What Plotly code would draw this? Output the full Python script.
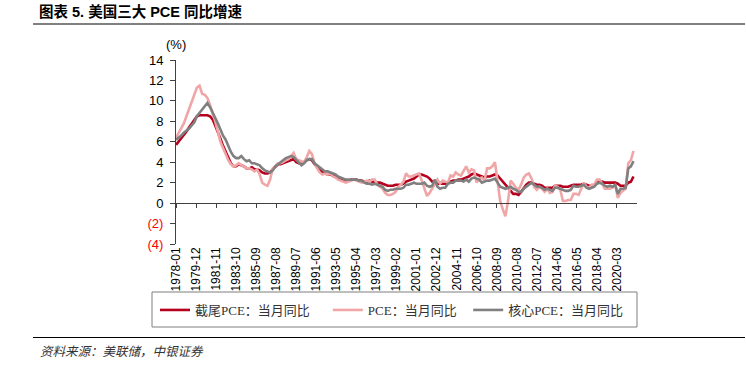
import plotly.graph_objects as go

# ---------------- data (quarterly readings: Jan, Apr, Jul, Oct) ----------------
years = list(range(1978, 2022))
quarter_months = [0, 3, 6, 9]

trimmed_pce = [  # 截尾PCE：当月同比
    5.7, 6.0, 6.4, 6.7,   # 1978
    7.0, 7.4, 7.8, 8.2,   # 1979
    8.5, 8.6, 8.6, 8.6,   # 1980
    8.6, 8.5, 8.2, 7.6,   # 1981
    7.0, 6.3, 5.6, 5.0,   # 1982
    4.5, 3.9, 3.6, 3.6,   # 1983
    3.8, 3.7, 3.6, 3.4,   # 1984
    3.4, 3.5, 3.3, 3.3,   # 1985
    3.2, 3.0, 2.9, 2.9,   # 1986
    3.0, 3.3, 3.6, 3.8,   # 1987
    3.8, 3.9, 4.0, 4.1,   # 1988
    4.2, 4.3, 4.0, 3.9,   # 1989
    3.8, 4.0, 4.2, 4.3,   # 1990
    4.2, 3.8, 3.5, 3.3,   # 1991
    3.0, 2.9, 2.8, 2.8,   # 1992
    2.7, 2.6, 2.5, 2.4,   # 1993
    2.3, 2.2, 2.2, 2.3,   # 1994
    2.3, 2.3, 2.2, 2.2,   # 1995
    2.1, 2.1, 2.2, 2.1,   # 1996
    2.1, 2.0, 2.0, 1.9,   # 1997
    1.8, 1.7, 1.7, 1.7,   # 1998
    1.8, 1.8, 1.8, 1.9,   # 1999
    2.1, 2.2, 2.3, 2.4,   # 2000
    2.6, 2.8, 2.8, 2.7,   # 2001
    2.6, 2.4, 2.1, 2.0,   # 2002
    1.9, 1.9, 1.9, 1.9,   # 2003
    2.0, 2.1, 2.2, 2.2,   # 2004
    2.3, 2.3, 2.4, 2.5,   # 2005
    2.6, 2.8, 2.9, 2.8,   # 2006
    2.7, 2.6, 2.5, 2.6,   # 2007
    2.6, 2.7, 2.8, 2.7,   # 2008
    2.4, 2.1, 1.7, 1.4,   # 2009
    1.1, 0.9, 0.9, 0.8,   # 2010
    1.1, 1.5, 1.8, 2.0,   # 2011
    2.0, 1.9, 1.8, 1.8,   # 2012
    1.7, 1.5, 1.5, 1.5,   # 2013
    1.5, 1.7, 1.7, 1.7,   # 2014
    1.6, 1.6, 1.6, 1.7,   # 2015
    1.8, 1.8, 1.8, 1.8,   # 2016
    1.9, 1.8, 1.7, 1.7,   # 2017
    1.8, 2.0, 2.1, 2.1,   # 2018
    2.0, 2.0, 2.0, 2.0,   # 2019
    2.0, 1.9, 1.7, 1.7,   # 2020
    1.7, 2.0, 2.1, 2.6,   # 2021
]

headline_pce = [  # PCE：当月同比
    6.4, 6.9, 7.3, 7.8,
    8.5, 9.2, 10.0, 10.8,
    11.3, 11.5, 10.7, 10.6,
    10.3, 9.6, 8.9, 8.0,
    7.0, 6.0, 5.4, 4.8,
    4.2, 3.8, 3.6, 3.7,
    3.9, 3.7, 3.6, 3.4,
    3.4, 3.3, 3.1, 3.3,
    2.8, 2.0, 1.8, 1.7,
    2.3, 3.4, 3.7, 3.9,
    3.9, 4.0, 4.2, 4.3,
    4.6, 4.9, 4.3, 4.2,
    4.1, 4.0, 4.5, 5.1,
    4.8, 3.9, 3.4, 3.0,
    2.8, 2.9, 2.8, 2.9,
    2.6, 2.5, 2.3, 2.2,
    2.1, 2.0, 2.1, 2.2,
    2.3, 2.2, 2.1, 2.0,
    2.1, 2.2, 2.1, 2.3,
    2.3, 1.8, 1.6, 1.4,
    1.0, 0.8, 0.8, 0.9,
    1.1, 1.6, 1.8, 2.1,
    2.9, 2.6, 2.6, 2.7,
    2.8, 2.9, 2.2, 1.4,
    0.7, 1.0, 1.4, 1.8,
    2.3, 1.9, 2.2, 2.1,
    2.0, 2.7, 2.6, 3.0,
    2.8, 2.7, 3.1, 3.6,
    3.0, 3.3, 3.2, 2.0,
    2.4, 2.5, 2.2, 3.4,
    3.4, 3.6, 4.0, 2.3,
    0.2, -0.6, -1.3, 0.2,
    2.2, 1.9, 1.5, 1.3,
    1.8, 2.5, 2.8, 2.9,
    2.4, 1.6, 1.3, 1.6,
    1.4, 1.1, 1.4, 1.0,
    1.1, 1.7, 1.6, 1.3,
    0.2, 0.2, 0.3, 0.3,
    0.9, 0.9, 0.8, 1.4,
    2.0, 1.6, 1.5, 1.8,
    1.8, 2.3, 2.3, 1.9,
    1.4, 1.4, 1.4, 1.5,
    1.8, 0.5, 1.0, 1.2,
    1.4, 3.9, 4.2, 5.1,
]

core_pce = [  # 核心PCE：当月同比
    6.2, 6.4, 6.6, 6.9,
    7.1, 7.3, 7.6, 7.9,
    8.5, 8.8, 9.1, 9.5,
    9.8, 9.4, 8.9, 8.3,
    7.8, 7.2, 6.6, 6.2,
    5.6, 5.0, 4.6, 4.4,
    4.4, 4.6, 4.3, 4.1,
    4.2, 3.9, 3.9, 3.8,
    3.7, 3.4, 3.2, 3.1,
    3.0, 3.2, 3.6, 3.8,
    4.0, 4.2, 4.4, 4.5,
    4.6, 4.5, 4.2, 4.0,
    3.7, 3.9, 4.2, 4.3,
    4.3, 3.9, 3.7, 3.5,
    3.3, 3.1, 3.1, 3.0,
    2.9, 2.8, 2.6, 2.5,
    2.4, 2.3, 2.3, 2.3,
    2.3, 2.3, 2.2, 2.2,
    2.0, 1.9, 1.9, 1.8,
    1.9, 1.8, 1.7, 1.6,
    1.3, 1.2, 1.3, 1.3,
    1.4, 1.4, 1.4, 1.5,
    1.8, 1.8, 1.9, 2.0,
    1.9, 1.9, 1.9, 2.0,
    1.7, 1.6, 1.7, 2.3,
    1.6, 1.4, 1.5, 1.5,
    1.9, 2.0, 2.0, 2.2,
    2.2, 2.2, 2.1, 2.3,
    2.1, 2.4, 2.5, 2.4,
    2.3, 2.0, 2.1, 2.2,
    2.2, 2.3, 2.4, 2.0,
    1.6, 1.5, 1.4, 1.5,
    1.6, 1.4, 1.3, 1.1,
    1.1, 1.4, 1.6, 1.8,
    2.0, 1.8, 1.6, 1.6,
    1.5, 1.3, 1.4, 1.3,
    1.2, 1.5, 1.5, 1.4,
    1.3, 1.2, 1.2, 1.3,
    1.7, 1.6, 1.6, 1.7,
    1.8, 1.5, 1.4, 1.5,
    1.6, 1.9, 2.0, 1.9,
    1.7, 1.6, 1.7, 1.6,
    1.8, 0.9, 1.4, 1.4,
    1.5, 3.4, 3.6, 4.1,
]

x_tick_labels = ["1978-01", "1979-12", "1981-11", "1983-10", "1985-09", "1987-08",
                 "1989-07", "1991-06", "1993-05", "1995-04", "1997-03", "1999-02",
                 "2001-01", "2002-12", "2004-11", "2006-10", "2008-09", "2010-08",
                 "2012-07", "2014-06", "2016-05", "2018-04", "2020-03"]
y_tick_values = [-4, -2, 0, 2, 4, 6, 8, 10, 12, 14]
y_tick_labels = ["(4)", "(2)", "0", "2", "4", "6", "8", "10", "12", "14"]

# ---------------- build ----------------
month_index = [12 * (y - 1978) + q for y in years for q in quarter_months]


def month_no(label):
    yy, mm = label.split("-")
    return 12 * (int(yy) - 1978) + int(mm) - 1


x_tick_vals = [month_no(s) for s in x_tick_labels]
y_tick_text = [f"<span style='color:#FF0000'>{t}</span>" if t.startswith("(") else t
               for t in y_tick_labels]

legend_font = dict(family="Liberation Serif, Noto Sans CJK SC", size=13, color="#333333")
NB = "\u00a0"

fig = go.Figure()
fig.add_trace(go.Scatter(x=month_index, y=trimmed_pce, mode="lines",
                         name="截尾PCE：当月同比" + NB * 4,
                         line=dict(color="#B5001E", width=2.6)))
fig.add_trace(go.Scatter(x=month_index, y=headline_pce, mode="lines",
                         name="PCE：当月同比" + NB * 2,
                         line=dict(color="#F0A6A6", width=2.6)))
fig.add_trace(go.Scatter(x=month_index, y=core_pce, mode="lines", name="核心PCE：当月同比",
                         line=dict(color="#808080", width=2.6)))

x_range = [0, 529]
y_range = [-4, 14]
zero_pos = (0 - y_range[0]) / (y_range[1] - y_range[0])

PL, PR, PT, PB = 176, 637, 60, 244
PW, PH = PR - PL, PB - PT


def px(x):
    return (x - PL) / PW


def py(y):
    return (PB - y) / PH


fig.update_layout(
    width=746, height=367,
    margin=dict(l=PL, r=746 - PR, t=PT, b=367 - PB, autoexpand=False),
    paper_bgcolor="white", plot_bgcolor="white",
    showlegend=True,
    legend=dict(orientation="h", x=px(155), xanchor="left", y=py(310), yanchor="middle",
                font=legend_font, itemwidth=30, bgcolor="rgba(0,0,0,0)",
                traceorder="normal"),
    xaxis=dict(range=x_range, tickmode="array", tickvals=x_tick_vals, ticktext=x_tick_labels,
               tickangle=-90, showline=False, ticks="", showgrid=False, zeroline=False,
               tickfont=dict(family="Liberation Sans, Arial", size=12, color="#000000"),
               ticklabelstandoff=0),
    xaxis2=dict(range=x_range, overlaying="x", anchor="free", position=zero_pos,
                tickmode="array", tickvals=x_tick_vals, showticklabels=False,
                ticks="outside", ticklen=4, tickcolor="#404040", tickwidth=1,
                showline=True, linecolor="#404040", linewidth=1, showgrid=False,
                zeroline=False),
    yaxis=dict(range=y_range, tickmode="array", tickvals=y_tick_values, ticktext=y_tick_text,
               showline=True, linecolor="#404040", linewidth=1, ticks="outside", ticklen=5,
               tickcolor="#404040", showgrid=False, zeroline=False,
               tickfont=dict(family="Liberation Sans, Arial", size=13, color="#000000"),
               ticklabelstandoff=4),
)

# invisible helper trace so the zero-line axis is drawn
fig.add_trace(go.Scatter(x=[month_index[0]], y=[0], xaxis="x2", mode="markers",
                         marker=dict(opacity=0), showlegend=False, hoverinfo="skip"))

# legend frame, header / footer rules
fig.add_shape(type="rect", xref="paper", yref="paper",
              x0=px(152), x1=px(637), y0=py(327), y1=py(292),
              line=dict(color="#7F7F7F", width=1), fillcolor="rgba(0,0,0,0)")
fig.add_shape(type="line", xref="paper", yref="paper",
              x0=px(33), x1=px(745), y0=py(24), y1=py(24),
              line=dict(color="#000000", width=1))
fig.add_shape(type="line", xref="paper", yref="paper",
              x0=px(33), x1=px(745), y0=py(337.5), y1=py(337.5),
              line=dict(color="#000000", width=1))

fig.add_annotation(text="<b>图表 5. 美国三大 PCE 同比增速</b>", xref="paper", yref="paper",
                   x=px(37), y=py(12), xanchor="left", yanchor="middle",
                   showarrow=False,
                   font=dict(family="Liberation Sans, Noto Sans CJK SC", size=14.5, color="#000000"))
fig.add_annotation(text="(%)", xref="paper", yref="paper",
                   x=px(176), y=py(45), xanchor="center", yanchor="middle",
                   showarrow=False,
                   font=dict(family="Liberation Sans, Arial", size=13, color="#000000"))
fig.add_annotation(text="<i>资料来源：美联储，中银证券</i>", xref="paper", yref="paper",
                   x=px(38), y=py(350), xanchor="left", yanchor="middle",
                   showarrow=False,
                   font=dict(family="Noto Sans CJK SC", size=12.5, color="#333333"))

fig.write_html("out.html", config={"displayModeBar": False},
               post_script="document.body.style.margin='0';")
